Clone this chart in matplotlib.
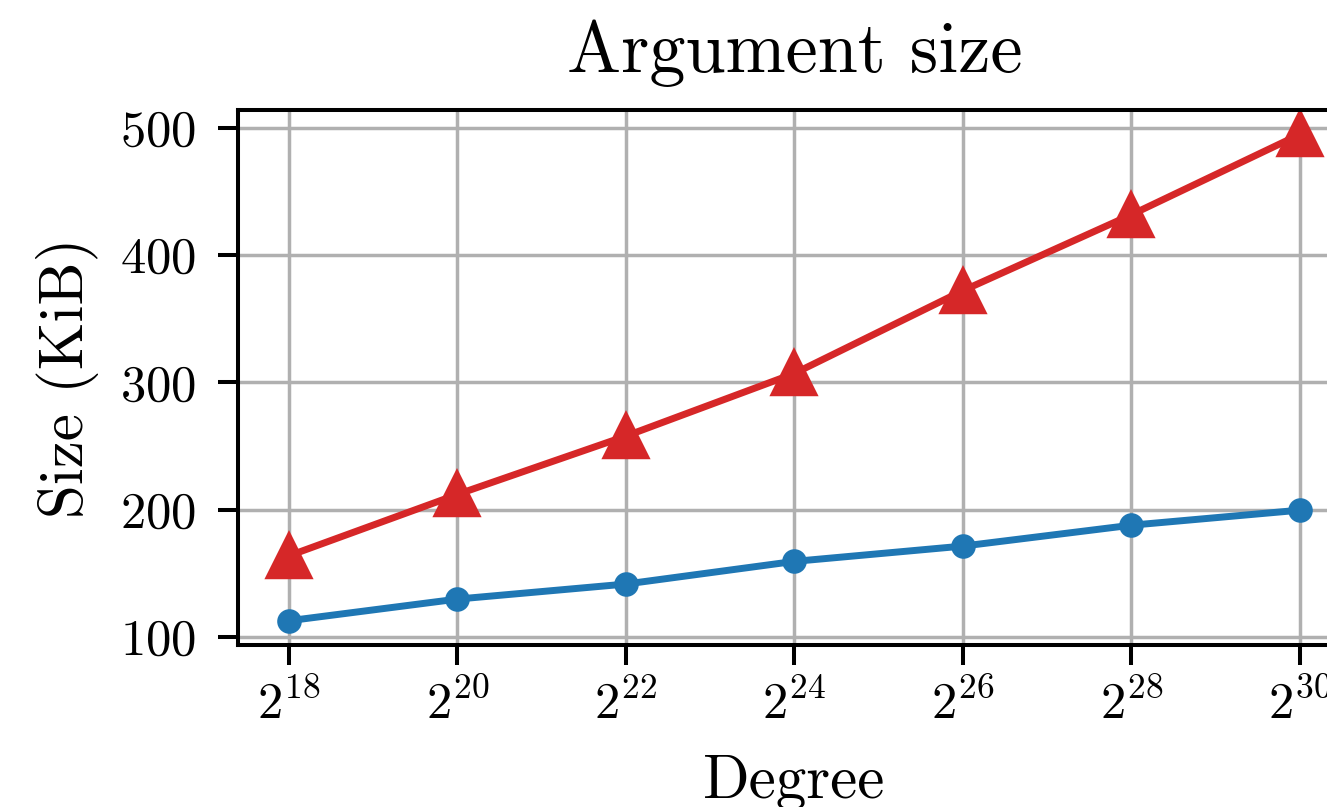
import matplotlib
matplotlib.use("Agg")
import matplotlib.pyplot as plt
from matplotlib.ticker import NullLocator

plt.rcParams["font.family"] = "cmr10"
plt.rcParams["mathtext.fontset"] = "cm"
plt.rcParams["axes.formatter.use_mathtext"] = True

# Data
exponents = [18, 20, 22, 24, 26, 28, 30]
degree = [2 ** e for e in exponents]
size_blue = [112.8, 129.8, 141.6, 159.4, 171.4, 187.8, 199.6]
size_red = [163.8, 212.0, 257.8, 307.0, 372.0, 431.6, 494.7]

fig = plt.figure(figsize=(13.27, 8.07), dpi=100)
ax = fig.add_axes([0.1797, 0.2007, 0.838, 0.663])

ax.plot(degree, size_blue, color="tab:blue", marker="o", lw=5,
        ms=14.5, mew=3.2)
ax.plot(degree, size_red, color="tab:red", marker="^", lw=5,
        ms=30, mew=3.2)

ax.set_xscale("log", base=2)
ax.set_xticks(degree)
ax.xaxis.set_minor_locator(NullLocator())
ax.set_yticks([100, 200, 300, 400, 500])

ax.grid(True, color="#b0b0b0", lw=2.5)
ax.set_axisbelow(True)
for s in ax.spines.values():
    s.set_linewidth(2.9)
ax.tick_params(length=14.4, width=2.9, labelsize=36.5)
ax.tick_params(axis="x", pad=11)
ax.tick_params(axis="y", pad=16)

ax.set_title("Argument size", fontsize=52, pad=27)
ax.set_ylabel("Size (KiB)", fontsize=44, labelpad=15)
ax.set_xlabel("Degree", fontsize=44, labelpad=18)

fig.savefig("out.png", dpi=100)
